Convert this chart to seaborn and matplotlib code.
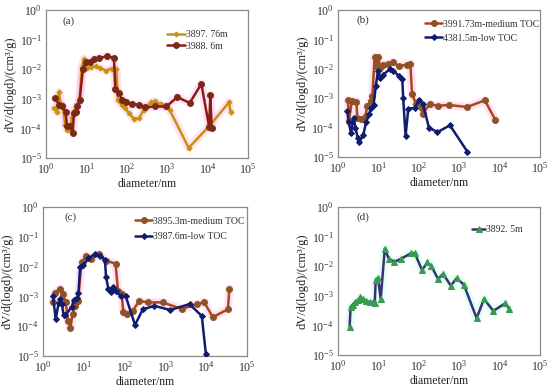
import numpy as np
import pandas as pd
import matplotlib
matplotlib.use("Agg")
import matplotlib.pyplot as plt
from matplotlib.ticker import LogLocator, LogFormatterSciNotation, NullLocator
import seaborn as sns

sns.set_theme(style="white")
plt.rcParams['font.family'] = ['Liberation Serif', 'DejaVu Serif']
plt.rcParams['mathtext.fontset'] = 'custom'
plt.rcParams['mathtext.rm'] = 'Liberation Serif'
plt.rcParams['mathtext.it'] = 'Liberation Serif:italic'

# ---------------- data ----------------
# (a)
a1_label = "3897. 76m"
a1_x = [1.55, 1.9, 2.1, 2.3, 2.6, 3.0, 3.4, 3.9, 4.4, 5.0, 5.8, 6.8, 7.6, 8.7, 10.5, 13, 17, 22, 30, 42, 55,
        60, 75, 90, 112, 150, 200, 265, 390, 500, 700, 1150, 3400, 11000, 34000, 37000]
a1_y = [5e-4, 3.5e-4, 1.7e-3, 6.5e-4, 6e-4, 1.3e-4, 9e-5, 9e-5, 2.5e-4, 4e-4, 6e-4, 9e-4, 1.1e-2, 2.2e-2,
        1.1e-2, 1.2e-2, 1.25e-2, 1.1e-2, 9e-3, 1.05e-2, 1.0e-2,
        9e-4, 6e-4, 5e-4, 3.3e-4, 2.1e-4, 2.2e-4, 4.3e-4, 7.5e-4, 8.3e-4, 6.5e-4, 4.2e-4, 2.2e-5, 1.2e-4,
        7.6e-4, 3.5e-4]
a2_label = "3988. 6m"
a2_x = [1.67, 2.1, 2.5, 3.06, 3.3, 4.0, 4.6, 4.9, 5.4, 6.0, 6.8, 8.2, 9.5, 12.2, 15.3, 20, 33, 48, 52, 63, 77,
        93, 136, 200, 290, 490, 960, 1780, 3600, 7000, 10900, 11700, 12600]
a2_y = [1.07e-3, 6.3e-4, 5.5e-4, 3.7e-4, 1.2e-4, 1.2e-4, 7e-5, 3.3e-4, 3.7e-4, 5.5e-4, 9.3e-4, 1e-2, 1.7e-2,
        1.8e-2, 2.2e-2, 2.4e-2, 2.7e-2, 2.4e-2, 2.1e-3, 1.6e-3, 9.3e-4, 7.8e-4, 6.6e-4, 6.3e-4, 5.1e-4,
        5.5e-4, 5.5e-4, 1.15e-3, 7.2e-4, 3.2e-3, 1.15e-4, 1.3e-3, 1e-4]

# (b)
b1_label = "3991.73m-medium TOC"
b1_x = [1.77, 1.87, 2.2, 2.85, 3.0, 3.8, 4.8, 5.3, 6.4, 7.1, 8.1, 8.9, 10.0, 11, 13, 17, 23, 32, 50, 62, 68,
        85, 117, 125, 187, 300, 550, 1580, 4300, 7900]
b1_y = [8.5e-4, 1.7e-4, 8e-4, 7.7e-4, 2.2e-4, 2e-4, 2.5e-4, 5.5e-4, 8e-4, 1.2e-3, 2.6e-2, 1.2e-2, 2.6e-2,
        1.1e-2, 1.3e-2, 1.5e-2, 1.7e-2, 1.2e-2, 1.4e-2, 1.5e-2, 1.4e-3, 6.5e-4, 4.8e-4, 3e-4, 6.3e-4,
        5.5e-4, 5.9e-4, 5e-4, 8.5e-4, 1.8e-4]
b2_label = "4381.5m-low TOC"
b2_x = [1.7, 1.83, 2.1, 2.45, 2.7, 3.1, 3.4, 4.2, 5.0, 5.9, 6.7, 7.6, 8.6, 9.8, 11.2, 13, 19, 23, 32, 39, 41,
        47, 55, 80, 100, 127, 178, 290, 590, 1600]
b2_y = [3.7e-4, 1.5e-4, 6.8e-5, 2.2e-4, 1e-4, 4.3e-5, 3.3e-5, 5.5e-5, 1.6e-4, 2.9e-4, 4.8e-4, 6e-4, 2.6e-3,
        8.7e-3, 4.8e-3, 6.3e-3, 9.5e-3, 8.6e-3, 5.8e-3, 4.5e-3, 1.05e-3, 5.2e-5, 4.4e-4, 4.7e-4, 8.5e-4,
        6.3e-4, 1e-4, 7e-5, 1.2e-4, 1.5e-5]

# (c)
c1_label = "3895.3m-medium TOC"
c1_x = [1.76, 1.93, 2.57, 3.1, 3.6, 4.1, 4.7, 5.3, 6.0, 7.2, 8.8, 11.6, 15.4, 23, 35, 60, 69, 85, 93, 112,
        157, 230, 380, 850, 2500, 6100, 8900, 14500, 34000, 37000]
c1_y = [6.3e-4, 1.35e-3, 1.8e-3, 1.2e-3, 6.3e-4, 1.5e-4, 9e-5, 2.5e-4, 4.8e-4, 7e-4, 1.4e-2, 2.3e-2, 1.8e-2,
        2.6e-2, 1.6e-2, 1.25e-2, 1.5e-3, 1.2e-3, 2.9e-4, 2.5e-4, 3.3e-4, 7e-4, 6.3e-4, 6.3e-4, 3.8e-4,
        5.5e-4, 6.5e-4, 2e-4, 3.7e-4, 1.8e-3]
c2_label = "3987.6m-low TOC"
c2_x = [1.76, 2.05, 2.4, 2.6, 2.9, 3.2, 3.5, 5.1, 5.6, 6.8, 7.4, 8.1, 9.8, 13, 19, 25, 33, 35, 40, 46, 52,
        63, 80, 107, 180, 280, 540, 1300, 3900, 7800, 9800]
c2_y = [1.05e-3, 1.7e-4, 5.8e-4, 8.5e-4, 5.5e-4, 2.3e-4, 2.3e-4, 4.5e-4, 7.6e-4, 9e-4, 1.26e-3, 1e-2,
        1.1e-2, 1.9e-2, 2.7e-2, 2.3e-2, 1.7e-2, 4.6e-3, 1.8e-3, 1.4e-3, 2e-3, 1.5e-3, 1e-3, 1e-3, 1.1e-4,
        3.7e-4, 4.8e-4, 3.5e-4, 5.5e-4, 2.2e-4, 1.2e-5]

# (d)
d1_label = "3892. 5m"
d1_x = [1.94, 2.05, 2.3, 2.6, 3.1, 3.6, 4.2, 5.0, 6.1, 7.4, 8.1, 8.6, 9.8, 11.4, 14.4, 18, 25, 37, 63, 80,
        120, 163, 205, 300, 400, 620, 860, 1300, 2700, 4100, 7000, 13600, 17400]
d1_y = [9e-5, 4.3e-4, 5e-4, 6e-4, 7e-4, 9e-4, 7.6e-4, 6.8e-4, 6e-4, 6e-4, 5.5e-4, 3.5e-3, 3.9e-3, 8e-4,
        3.9e-2, 1.8e-2, 1.4e-2, 1.8e-2, 2.7e-2, 2.7e-2, 7.4e-3, 1.35e-2, 1e-2, 3.7e-3, 5.5e-3, 2.2e-3,
        3.9e-3, 2.4e-3, 1.75e-4, 7.8e-4, 3.1e-4, 5.5e-4, 3.7e-4]

panel_letters = ["(a)", "(b)", "(c)", "(d)"]
x_label = "diameter/nm"
y_label = "dV/d(logd)/(cm\u00b3/g)"

# ---------------- layout ----------------
fig = plt.figure(figsize=(5.5, 3.88), dpi=100)
W, H = 550, 388
boxes = [(46, 10, 248, 158), (338, 10, 540, 157), (43, 207, 247, 356), (338, 207, 540, 355)]
axes = []
for (l, t, r, b) in boxes:
    axes.append(fig.add_axes([l / W, 1 - b / H, (r - l) / W, (b - t) / H]))

GOLD = "#c8920e"
DKRED = "#8a1c12"
BROWN = "#b0441c"
BROWN_M = "#8c5326"
NAVY = "#101c6e"
PURP = "#3a2f78"
GREEN = "#3a9a50"
PINK = "#ff7fd0"
LGREEN = "#7fffd0"

def series(ax, x, y, label, color, marker, mcolor, ms, lw=1.8, halo=None):
    df = pd.DataFrame({"x": x, "y": y})
    if halo is not None:
        sns.lineplot(data=df, x="x", y="y", ax=ax, sort=False, estimator=None, color=halo, lw=6,
                     alpha=0.22, legend=False, zorder=1)
    sns.lineplot(data=df, x="x", y="y", ax=ax, sort=False, estimator=None, color=color, lw=lw,
                 marker=marker, markersize=ms, markerfacecolor=mcolor, markeredgecolor=mcolor,
                 label=label, zorder=3)

legfont = {'family': ['Liberation Serif'], 'size': 7}

# (a)
ax = axes[0]
series(ax, a1_x, a1_y, a1_label, GOLD, "D", GOLD, 2.5, halo=PINK)
series(ax, a2_x, a2_y, a2_label, DKRED, "o", "#7a2a14", 4.2, halo=PINK)
# (b)
ax = axes[1]
series(ax, b1_x, b1_y, b1_label, BROWN, "o", BROWN_M, 4.2, halo=PINK)
series(ax, b2_x, b2_y, b2_label, NAVY, "D", NAVY, 3)
# (c)
ax = axes[2]
series(ax, c1_x, c1_y, c1_label, BROWN, "o", BROWN_M, 4.2, halo=PINK)
series(ax, c2_x, c2_y, c2_label, NAVY, "D", NAVY, 3)
# (d)
ax = axes[3]
series(ax, d1_x, d1_y, d1_label, PURP, "^", GREEN, 4.2, halo=LGREEN)

leg_pos = [(0.60, 0.865), (0.43, 0.935), (0.45, 0.935), (0.665, 0.875)]
leg_hl = [1.8, 1.8, 1.8, 1.3]
leg_ls = [0.3, 0.55, 0.65, 0.5]
letter_pos = [(0.08, 0.955), (0.09, 0.965), (0.105, 0.965), (0.09, 0.965)]
for i, ax in enumerate(axes):
    ax.set_xscale("log")
    ax.set_yscale("log")
    ax.set_xlim(1, 1e5)
    ax.set_ylim(1e-5, 1)
    ax.xaxis.set_major_locator(LogLocator(base=10, numticks=10))
    ax.yaxis.set_major_locator(LogLocator(base=10, numticks=10))
    ax.xaxis.set_minor_locator(NullLocator())
    ax.yaxis.set_minor_locator(NullLocator())
    ax.xaxis.set_major_formatter(LogFormatterSciNotation())
    ax.yaxis.set_major_formatter(LogFormatterSciNotation())
    ax.tick_params(direction="in", length=3, width=0.8, labelsize=8.5, colors="#555555",
                   labelcolor="#333333", pad=3)
    for s in ax.spines.values():
        s.set_color("#8a8a8a")
        s.set_linewidth(0.9)
    ax.set_xlabel(x_label, fontsize=8.5, color="#222222", labelpad=1)
    ax.set_ylabel(y_label, fontsize=9, color="#222222", labelpad=2)
    ax.text(letter_pos[i][0], letter_pos[i][1], panel_letters[i], transform=ax.transAxes, fontsize=8,
            color="#333333", va="top", ha="left")
    leg = ax.legend(loc="upper left", bbox_to_anchor=leg_pos[i], frameon=False, prop=legfont,
                    handlelength=leg_hl[i], handletextpad=0.1, borderaxespad=0, borderpad=0,
                    labelspacing=leg_ls[i])
    for t in leg.get_texts():
        t.set_color("#333333")

fig.savefig("out.png", dpi=100)
